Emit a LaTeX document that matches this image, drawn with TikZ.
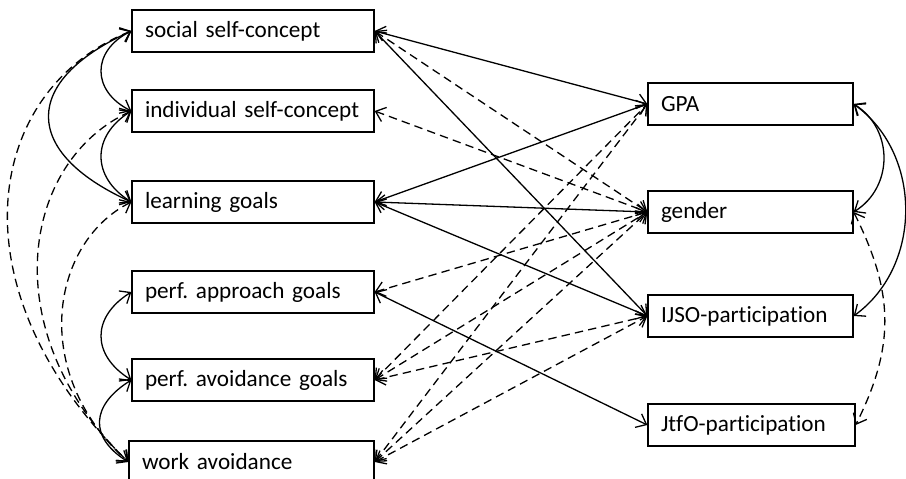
\documentclass[tikz,border=0pt]{standalone}
\usepackage{fontspec}
\setmainfont{Carlito}[Ligatures=NoCommon]
\frenchspacing
\usetikzlibrary{arrows.meta}
\begin{document}
\begin{tikzpicture}[x=0.5pt, y=0.5pt, >={Straight Barb[length=4.5pt,width=7.5pt]}, line width=0.65pt,
  lbox/.style={draw, minimum height=21pt, inner xsep=6.5pt, text width=108pt, align=left, font=\fontsize{11.6}{14}\selectfont},
  rbox/.style={lbox, text width=89.5pt},
  dsh/.style={dash pattern=on 4.2pt off 2.6pt}]
  \useasboundingbox (0,0) rectangle (906,478);
  \node[lbox] (soc) at (253,447) {social self-concept};
  \node[lbox] (ind) at (253,367) {individual self-concept};
  \node[lbox] (lrn) at (253,276) {learning goals};
  \node[lbox] (app) at (253,186) {perf. approach goals};
  \node[lbox] (avd) at (253,98) {perf. avoidance goals};
  \node[lbox, text width=109.5pt] (wrk) at (251.5,16) {work avoidance};
  \node[rbox] (gpa) at (750.5,374) {GPA};
  \node[rbox] (gen) at (750.5,266) {gender};
  \node[rbox] (ijso) at (750.5,162) {IJSO-participation};
  \node[rbox, text width=90.5pt] (jtfo) at (751.5,53) {JtfO-participation};
  \draw[<->] (soc.east) -- (gpa.west);
  \draw[<->, dsh] (soc.east) -- (gen.west);
  \draw[<->] (soc.east) -- (ijso.west);
  \draw[<->, dsh] (ind.east) -- (gen.west);
  \foreach \t in {gpa,gen,ijso}
    \draw[<->] (lrn.east) -- (\t.west);
  \draw[<->, dsh] (app.east) -- (gen.west);
  \draw[<->] (app.east) -- (jtfo.west);
  \foreach \t in {gpa,gen,ijso} {
    \draw[<->, dsh] (avd.east) -- (\t.west);
    \draw[<->, dsh] (wrk.east) -- (\t.west);
  }
  \draw[<->] (soc.west) .. controls +(-40,-20) and +(-40,20) .. (ind.west);
  \draw[<->] (ind.west) .. controls +(-40,-25) and +(-40,25) .. (lrn.west);
  \draw[<->] (soc.west) .. controls +(-110,-50) and +(-110,50) .. (lrn.west);
  \draw[<->] (app.west) .. controls +(-40,-25) and +(-40,25) .. (avd.west);
  \draw[<->] (avd.west) .. controls +(-40,-25) and +(-40,25) .. (wrk.west);
  \draw[<->, dsh] (soc.west) .. controls +(-150,-60) and +(-175,170) .. (wrk.west);
  \draw[<->, dsh] (ind.west) .. controls +(-110,-50) and +(-135,130) .. (wrk.west);
  \draw[<->, dsh] (lrn.west) .. controls +(-80,-40) and +(-100,90) .. (wrk.west);
  \draw[<->] (gpa.east) .. controls +(40,-25) and +(40,25) .. (gen.east);
  \draw[<->] (gpa.east) .. controls +(69,-50) and +(69,50) .. (ijso.east);
  \draw[<->, dsh] (gen.east) .. controls +(40,-80) and +(40,80) .. (jtfo.east);
\end{tikzpicture}
\end{document}
